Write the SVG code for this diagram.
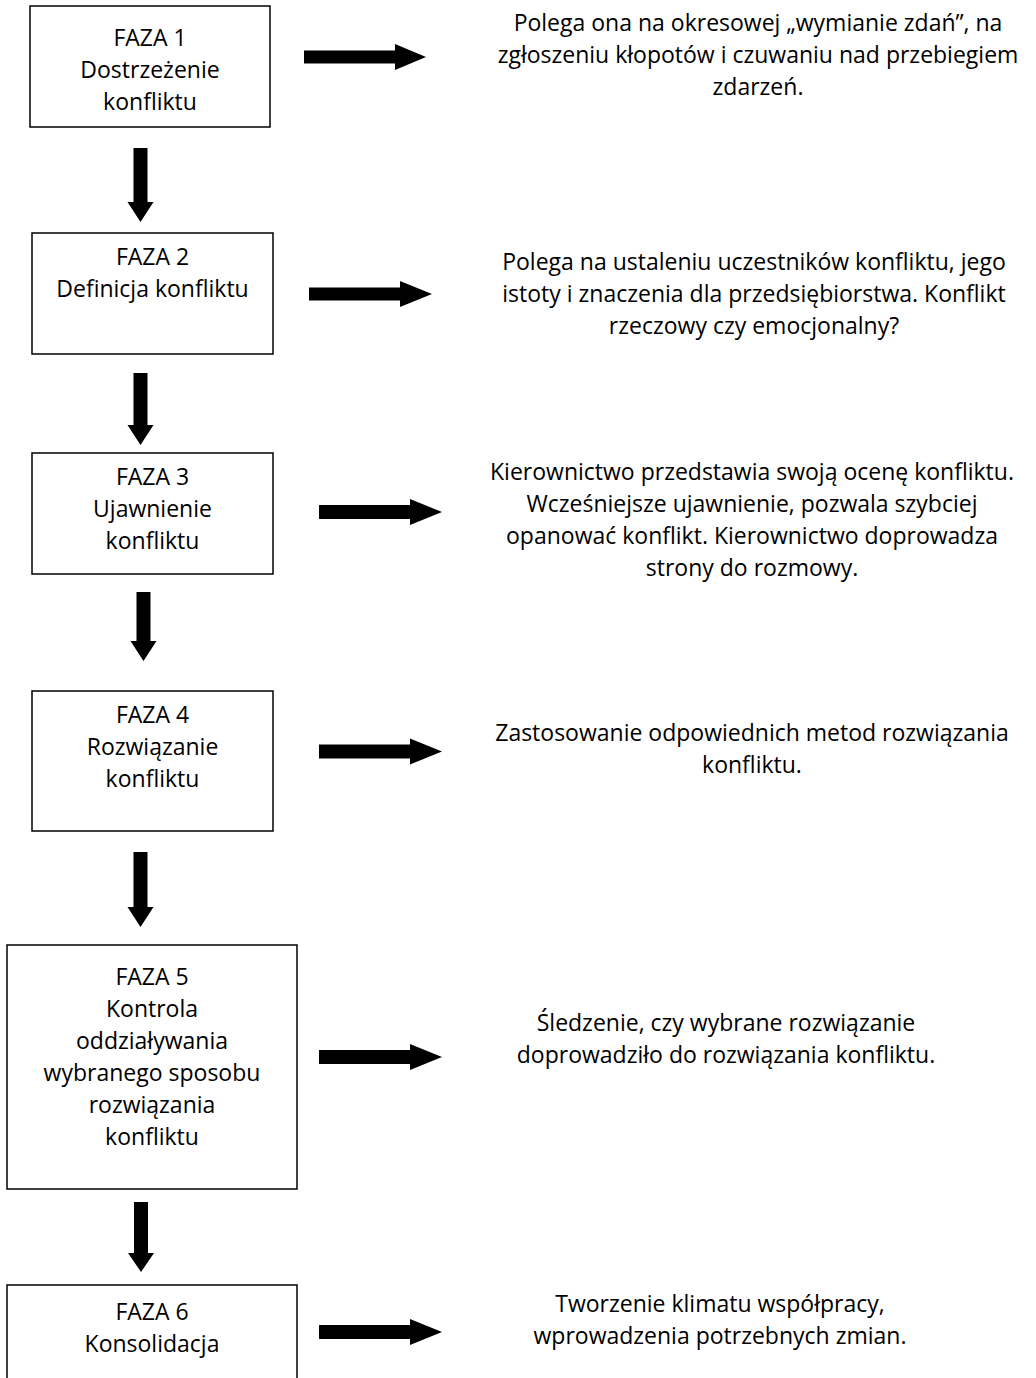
<svg xmlns="http://www.w3.org/2000/svg" width="1036" height="1378" viewBox="0 0 1036 1378">
  <style>
    .box { fill: #ffffff; stroke: #000000; stroke-width: 1.5; }
    .lbl { font-family: "Open Sans", "Liberation Sans", sans-serif; font-size: 23px; fill: #000000; text-anchor: middle; }
    .arrow { fill: #000000; stroke: none; }
  </style>
  <rect width="1036" height="1378" fill="#ffffff"/>

  <!-- phase boxes -->
  <g id="faza1">
    <rect class="box" x="30" y="6" width="240" height="121"/>
    <text class="lbl" x="150" y="46">FAZA 1</text>
    <text class="lbl" x="150" y="78">Dostrzeżenie</text>
    <text class="lbl" x="150" y="110">konfliktu</text>
  </g>
  <g id="faza2">
    <rect class="box" x="32" y="233" width="241" height="121"/>
    <text class="lbl" x="152.5" y="265">FAZA 2</text>
    <text class="lbl" x="152.5" y="297">Definicja konfliktu</text>
  </g>
  <g id="faza3">
    <rect class="box" x="32" y="453" width="241" height="121"/>
    <text class="lbl" x="152.5" y="485">FAZA 3</text>
    <text class="lbl" x="152.5" y="517">Ujawnienie</text>
    <text class="lbl" x="152.5" y="549">konfliktu</text>
  </g>
  <g id="faza4">
    <rect class="box" x="32" y="691" width="241" height="140"/>
    <text class="lbl" x="152.5" y="723">FAZA 4</text>
    <text class="lbl" x="152.5" y="755">Rozwiązanie</text>
    <text class="lbl" x="152.5" y="787">konfliktu</text>
  </g>
  <g id="faza5">
    <rect class="box" x="7" y="945" width="290" height="244"/>
    <text class="lbl" x="152" y="985">FAZA 5</text>
    <text class="lbl" x="152" y="1017">Kontrola</text>
    <text class="lbl" x="152" y="1049">oddziaływania</text>
    <text class="lbl" x="152" y="1081">wybranego sposobu</text>
    <text class="lbl" x="152" y="1113">rozwiązania</text>
    <text class="lbl" x="152" y="1145">konfliktu</text>
  </g>
  <g id="faza6">
    <rect class="box" x="7" y="1285" width="290" height="110"/>
    <text class="lbl" x="152" y="1320">FAZA 6</text>
    <text class="lbl" x="152" y="1352">Konsolidacja</text>
  </g>

  <!-- descriptions -->
  <g id="opis1">
    <text class="lbl" x="758" y="31">Polega ona na okresowej „wymianie zdań”, na</text>
    <text class="lbl" x="758" y="63">zgłoszeniu kłopotów i czuwaniu nad przebiegiem</text>
    <text class="lbl" x="758" y="95">zdarzeń.</text>
  </g>
  <g id="opis2">
    <text class="lbl" x="754" y="270">Polega na ustaleniu uczestników konfliktu, jego</text>
    <text class="lbl" x="754" y="302">istoty i znaczenia dla przedsiębiorstwa. Konflikt</text>
    <text class="lbl" x="754" y="334">rzeczowy czy emocjonalny?</text>
  </g>
  <g id="opis3">
    <text class="lbl" x="752" y="480">Kierownictwo przedstawia swoją ocenę konfliktu.</text>
    <text class="lbl" x="752" y="512">Wcześniejsze ujawnienie, pozwala szybciej</text>
    <text class="lbl" x="752" y="544">opanować konflikt. Kierownictwo doprowadza</text>
    <text class="lbl" x="752" y="576">strony do rozmowy.</text>
  </g>
  <g id="opis4">
    <text class="lbl" x="752" y="741">Zastosowanie odpowiednich metod rozwiązania</text>
    <text class="lbl" x="752" y="773">konfliktu.</text>
  </g>
  <g id="opis5">
    <text class="lbl" x="726" y="1031">Śledzenie, czy wybrane rozwiązanie</text>
    <text class="lbl" x="726" y="1063">doprowadziło do rozwiązania konfliktu.</text>
  </g>
  <g id="opis6">
    <text class="lbl" x="720" y="1312">Tworzenie klimatu współpracy,</text>
    <text class="lbl" x="720" y="1344">wprowadzenia potrzebnych zmian.</text>
  </g>

  <!-- block arrows -->
  <g id="connectors">
    <!-- downward, between phases -->
    <polygon class="arrow" points="133.5,148 147.5,148 147.5,202 153.5,202 140.5,222 127.5,202 133.5,202"/>
    <polygon class="arrow" points="133.5,373 147.5,373 147.5,425 153.5,425 140.5,445 127.5,425 133.5,425"/>
    <polygon class="arrow" points="136.5,592 150.5,592 150.5,641 156.5,641 143.5,661 130.5,641 136.5,641"/>
    <polygon class="arrow" points="133.5,852 147.5,852 147.5,907 153.5,907 140.5,927 127.5,907 133.5,907"/>
    <polygon class="arrow" points="134,1202 148,1202 148,1253 154,1253 141,1272 128,1253 134,1253"/>
    <!-- rightward, phase to description -->
    <polygon class="arrow" points="304,50.5 395,50.5 395,44 426,57 395,70 395,63.5 304,63.5"/>
    <polygon class="arrow" points="309,287.5 400,287.5 400,281 432,294 400,307 400,300.5 309,300.5"/>
    <polygon class="arrow" points="319,505 410,505 410,499 442,512 410,525 410,519 319,519"/>
    <polygon class="arrow" points="319,744.5 410,744.5 410,738.5 442,751.5 410,764.5 410,758.5 319,758.5"/>
    <polygon class="arrow" points="319,1050 410,1050 410,1044 442,1057 410,1070 410,1064 319,1064"/>
    <polygon class="arrow" points="319,1325 410,1325 410,1319 442,1332 410,1345 410,1339 319,1339"/>
  </g>
</svg>
